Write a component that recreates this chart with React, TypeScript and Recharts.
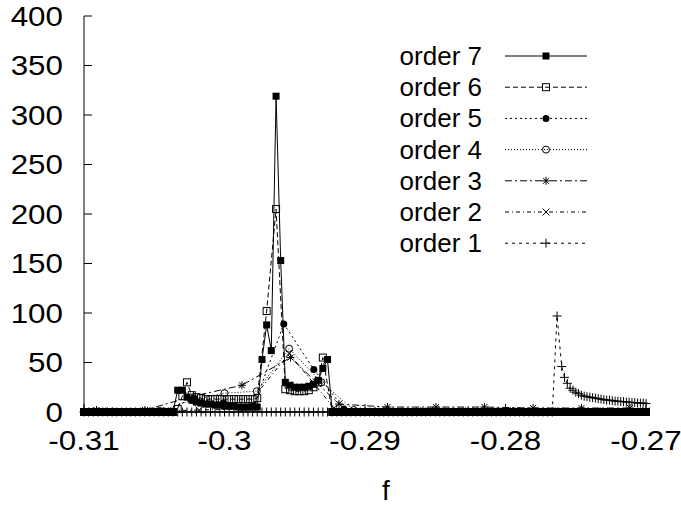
import React from "react";
import { LineChart, Line, XAxis, YAxis, Legend, Label } from "recharts";

// dense f grid used by orders 7, 6 (and the flat part of order 1)
const F = [
  -0.31, -0.30967, -0.30933, -0.309, -0.30867, -0.30833, -0.308, -0.30767, -0.30733, -0.307,
  -0.30667, -0.30633, -0.306, -0.30567, -0.30533, -0.305, -0.30467, -0.30433, -0.304, -0.30367,
  -0.30333, -0.303, -0.30267, -0.30233, -0.302, -0.30167, -0.30133, -0.301, -0.30067, -0.30033,
  -0.3, -0.29967, -0.29933, -0.299, -0.29867, -0.29833, -0.298, -0.29767, -0.29733, -0.297,
  -0.29667, -0.29633, -0.296, -0.29567, -0.29533, -0.295, -0.29467, -0.29433, -0.294, -0.29367,
  -0.29333, -0.293, -0.29267, -0.29233, -0.292, -0.29167, -0.29133, -0.291, -0.29067, -0.29033,
  -0.29, -0.28967, -0.28933, -0.289, -0.28867, -0.28833, -0.288, -0.28767, -0.28733, -0.287,
  -0.28667, -0.28633, -0.286, -0.28567, -0.28533, -0.285, -0.28467, -0.28433, -0.284, -0.28367,
  -0.28333, -0.283, -0.28267, -0.28233, -0.282, -0.28167, -0.28133, -0.281, -0.28067, -0.28033,
  -0.28, -0.27967, -0.27933, -0.279, -0.27867, -0.27833, -0.278, -0.27767, -0.27733, -0.277,
  -0.27667, -0.27633, -0.276, -0.27567, -0.27533, -0.275, -0.27467, -0.27433, -0.274, -0.27367,
  -0.27333, -0.273, -0.27267, -0.27233, -0.272, -0.27167, -0.27133, -0.271, -0.27067, -0.27033,
  -0.27,
];

const ORDER7 = [
  0, 0, 0, 0, 0, 0, 0, 0, 0, 0,
  0, 0, 0, 0, 0, 0, 0, 0, 0, 0,
  22, 22, 15, 12, 10, 9, 8, 8, 7, 7,
  6, 6, 6, 5, 5, 5, 5, 5, 53, 88,
  62, 319, 153, 30, 27, 25, 25, 25, 26, 28,
  32, 44, 53, 0, 0, 0, 0, 0, 0, 0,
  0, 0, 0, 0, 0, 0, 0, 0, 0, 0,
  0, 0, 0, 0, 0, 0, 0, 0, 0, 0,
  0, 0, 0, 0, 0, 0, 0, 0, 0, 0,
  0, 0, 0, 0, 0, 0, 0, 0, 0, 0,
  0, 0, 0, 0, 0, 0, 0, 0, 0, 0,
  0, 0, 0, 0, 0, 0, 0, 0, 0, 0,
  0,
];

// null = no sample of order 6 at that grid point
const ORDER6 = [
  0, 0, 0, 0, 0, 0, 0, 0, 0, 0,
  0, 0, 0, 0, 0, 0, 0, 0, 0, 0,
  3, 16, 30, 17, 15, 14, 13, 13, 13, 13,
  13, 13, 13, 13, 13, 13, 13, 14, null, 102,
  null, 205, null, 23, 22, 21, 21, 21, 22, 25,
  30, 55, null, 0, 0, 0, 0, 0, 0, 0,
  0, 0, 0, 0, 0, 0, 0, 0, 0, 0,
  0, 0, 0, 0, 0, 0, 0, 0, 0, 0,
  0, 0, 0, 0, 0, 0, 0, 0, 0, 0,
  0, 0, 0, 0, 0, 0, 0, 0, 0, 0,
  0, 0, 0, 0, 0, 0, 0, 0, 0, 0,
  0, 0, 0, 0, 0, 0, 0, 0, 0, 0,
  0,
];

const F5 = [
  -0.31, -0.3086, -0.30647, -0.30433, -0.3022, -0.30006, -0.29792, -0.29578, -0.29364, -0.2915,
  -0.28936, -0.28722, -0.28508, -0.28294, -0.2808, -0.27866, -0.27652, -0.27438, -0.27224, -0.2701,
];
const ORDER5 = [0, 0, 0, 1, 14, 9, 6, 89, 43, 3, 0, 0, 0, 0, 0, 0, 0, 0, 0, 0];

const F4 = [
  -0.31, -0.3092, -0.3069, -0.3046, -0.3023, -0.3, -0.2977, -0.2954, -0.2931, -0.2908,
  -0.2885, -0.2862, -0.2839, -0.2816, -0.2793, -0.277, -0.2747, -0.2724, -0.2701,
];
const ORDER4 = [0, 0, 0, 1, 12, 19, 21, 64, 30, 2, 0, 0, 0, 0, 0, 0, 0, 0, 0];

const F3 = [
  -0.30911, -0.30566, -0.30221, -0.29876, -0.2953, -0.29185, -0.2884, -0.28495, -0.2815, -0.27804,
  -0.27459, -0.27114,
];
const ORDER3 = [2, 2, 16, 27, 55, 8, 5, 5, 5, 4, 4, 4];

const F2 = [
  -0.31, -0.3082, -0.305, -0.3018, -0.2986, -0.2954, -0.2922, -0.289, -0.2858, -0.2826,
  -0.2794, -0.2762, -0.273, -0.27,
];
const ORDER2 = [0, 1, 1, 2, 3, 59, 4, 1, 1, 1, 1, 1, 1, 1];

// order 1: flat on the dense grid up to -0.27667, then the spike and its tail
const F1_TAIL = [
  -0.27633, -0.276, -0.2758, -0.2756, -0.2754, -0.2752, -0.275, -0.2748, -0.2746, -0.2744,
  -0.2742, -0.274, -0.2738, -0.2736, -0.2734, -0.2732, -0.273, -0.2728, -0.2726, -0.2724,
  -0.2722, -0.272, -0.2718, -0.2716, -0.2714, -0.2712, -0.271, -0.2708, -0.2706, -0.2704,
  -0.2702, -0.27,
];
const F1 = [...F.slice(0, 101), ...F1_TAIL];
const ORDER1 = [
  0, 0, 0, 0, 0, 0, 0, 0, 0, 0,
  0, 0, 0, 0, 0, 0, 0, 0, 0, 0,
  0, 0, 0, 0, 0, 0, 0, 0, 0, 0,
  0, 0, 0, 0, 0, 0, 0, 0, 0, 0,
  0, 0, 0, 0, 0, 0, 0, 0, 0, 0,
  0, 0, 0, 0, 0, 0, 0, 0, 0, 0,
  0, 0, 0, 0, 0, 0, 0, 0, 0, 0,
  0, 0, 0, 0, 0, 0, 0, 0, 0, 0,
  0, 0, 0, 0, 0, 0, 0, 0, 0, 0,
  0, 0, 0, 0, 0, 0, 0, 0, 0, 0,
  0,
  97, 46, 35, 29, 24, 22, 20, 18.5, 17, 16,
  15.5, 15, 14.5, 14, 13.5, 13, 12.5, 12, 12, 11.5,
  11, 11, 10.5, 10.5, 10, 10, 9.5, 9.5, 9, 9,
  9, 8.5,
];

const X_TICKS = [-0.31, -0.3, -0.29, -0.28, -0.27];
const Y_TICKS = [0, 50, 100, 150, 200, 250, 300, 350, 400];

const FONT = "'Liberation Sans', Arial, Helvetica, sans-serif";

const toPoints = (fs: number[], vs: (number | null)[]) => fs.map((f, i) => ({ f, v: vs[i] }));

const SERIES = [
  { name: "order 7", data: toPoints(F, ORDER7), dash: undefined, marker: "fsquare" },
  { name: "order 6", data: toPoints(F, ORDER6), dash: "5 3", marker: "osquare" },
  { name: "order 5", data: toPoints(F5, ORDER5), dash: "2 3", marker: "fcircle" },
  { name: "order 4", data: toPoints(F4, ORDER4), dash: "1 2", marker: "ocircle" },
  { name: "order 3", data: toPoints(F3, ORDER3), dash: "7 3 2 3", marker: "star" },
  { name: "order 2", data: toPoints(F2, ORDER2), dash: "4 3 1 3", marker: "cross" },
  { name: "order 1", data: toPoints(F1, ORDER1), dash: "3 4", marker: "plus" },
];

function Marker({ kind, cx, cy }: { kind: string; cx: number; cy: number }) {
  const s = 3.5;
  switch (kind) {
    case "fsquare":
      return <rect x={cx - s} y={cy - s} width={2 * s} height={2 * s} fill="#000" />;
    case "osquare":
      return <rect x={cx - s} y={cy - s} width={2 * s} height={2 * s} fill="none" stroke="#000" strokeWidth={1} />;
    case "fcircle":
      return <circle cx={cx} cy={cy} r={3.5} fill="#000" />;
    case "ocircle":
      return <circle cx={cx} cy={cy} r={3.5} fill="none" stroke="#000" strokeWidth={1} />;
    case "star":
      return (
        <path
          d={`M${cx - 4} ${cy}H${cx + 4}M${cx} ${cy - 4}V${cy + 4}M${cx - 3} ${cy - 3}L${cx + 3} ${cy + 3}M${cx - 3} ${cy + 3}L${cx + 3} ${cy - 3}`}
          stroke="#000"
          strokeWidth={1}
        />
      );
    case "cross":
      return (
        <path
          d={`M${cx - 3.5} ${cy - 3.5}L${cx + 3.5} ${cy + 3.5}M${cx - 3.5} ${cy + 3.5}L${cx + 3.5} ${cy - 3.5}`}
          stroke="#000"
          strokeWidth={1}
        />
      );
    default:
      return (
        <path d={`M${cx - 4.5} ${cy}H${cx + 4.5}M${cx} ${cy - 4.5}V${cy + 4.5}`} stroke="#000" strokeWidth={1} />
      );
  }
}

const renderDot = (kind: string) => (p: any) => {
  if (p.cx == null || p.cy == null || p.value == null) return <g key={`e-${kind}-${p.index}`} />;
  return <Marker key={`${kind}-${p.index}`} kind={kind} cx={p.cx} cy={p.cy} />;
};

const XTick = (p: any) => (
  <text
    transform={`translate(${p.x} ${p.y}) scale(1.12 1)`}
    textAnchor="middle"
    dominantBaseline="central"
    fontSize={28}
    fontFamily={FONT}
    fill="#000"
  >
    {String(p.payload.value)}
  </text>
);

const YTick = (p: any) => (
  <text
    transform={`translate(${p.x} ${p.y}) scale(1.12 1)`}
    textAnchor="end"
    dominantBaseline="central"
    fontSize={28}
    fontFamily={FONT}
    fill="#000"
  >
    {String(p.payload.value)}
  </text>
);

const LegendBox = () => (
  <svg width={230} height={240}>
    {SERIES.map((s, i) => {
      const y = 16 + i * 31.2;
      return (
        <g key={s.name}>
          <text x={102} y={y} textAnchor="end" dominantBaseline="central" fontSize={26} fontFamily={FONT} fill="#000">
            {s.name}
          </text>
          <line x1={125} x2={207} y1={y} y2={y} stroke="#000" strokeWidth={1} strokeDasharray={s.dash} />
          <Marker kind={s.marker} cx={166} cy={y} />
        </g>
      );
    })}
  </svg>
);

const App = () => {
  return (
    <div style={{ position: "absolute", left: 0, top: 0, width: 681, height: 508, background: "#fff" }}>
      <LineChart width={681} height={508} margin={{ top: 16, right: 35, bottom: 0, left: 0 }}>
        <XAxis
          xAxisId="x"
          dataKey="f"
          type="number"
          domain={[-0.31, -0.27]}
          ticks={X_TICKS}
          interval={0}
          height={96}
          tickSize={-8}
          tickMargin={36}
          tickLine={{ stroke: "#000" }}
          axisLine={{ stroke: "#000" }}
          tick={<XTick />}
        >
          <Label value="f" position="insideBottom" offset={8} dx={21} fontSize={28} fontFamily={FONT} fill="#000" />
        </XAxis>
        <XAxis
          xAxisId="top"
          type="number"
          orientation="top"
          mirror
          height={0}
          domain={[-0.31, -0.27]}
          ticks={X_TICKS}
          interval={0}
          allowDataOverflow
          tickSize={8}
          tick={false}
          tickLine={{ stroke: "#000" }}
          axisLine={{ stroke: "#000" }}
        />
        <YAxis
          yAxisId="y"
          type="number"
          domain={[0, 400]}
          ticks={Y_TICKS}
          interval={0}
          width={84}
          tickSize={-8}
          tickMargin={29}
          tickLine={{ stroke: "#000" }}
          axisLine={{ stroke: "#000" }}
          tick={<YTick />}
        />
        <YAxis
          yAxisId="right"
          type="number"
          orientation="right"
          mirror
          width={0}
          domain={[0, 400]}
          ticks={Y_TICKS}
          interval={0}
          allowDataOverflow
          tickSize={8}
          tick={false}
          tickLine={{ stroke: "#000" }}
          axisLine={{ stroke: "#000" }}
        />
        {SERIES.map((s) => (
          <Line
            key={s.name}
            xAxisId="x"
            yAxisId="y"
            name={s.name}
            data={s.data}
            dataKey="v"
            type="linear"
            stroke="#000"
            strokeWidth={1}
            strokeDasharray={s.dash}
            dot={renderDot(s.marker)}
            activeDot={false}
            connectNulls
            isAnimationActive={false}
          />
        ))}
        <Legend
          layout="vertical"
          align="center"
          verticalAlign="middle"
          wrapperStyle={{ left: 380, top: 40, width: 230, height: 240 }}
          content={<LegendBox />}
        />
      </LineChart>
    </div>
  );
};

export default App;
